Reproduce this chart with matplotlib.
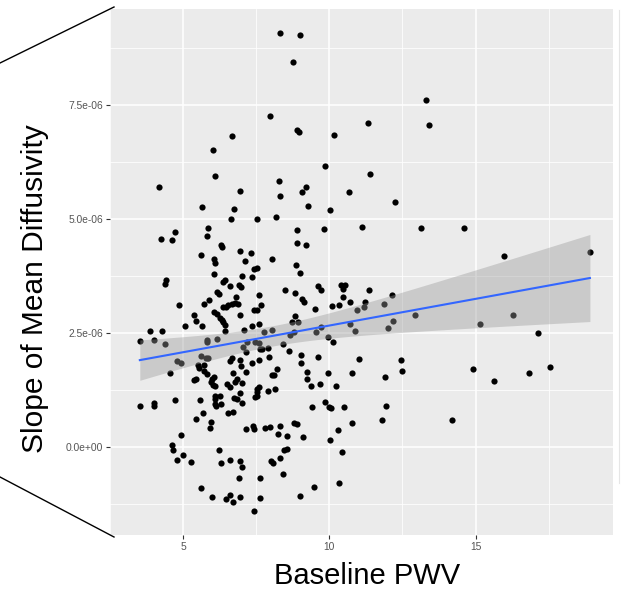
import numpy as np
import matplotlib.pyplot as plt
from matplotlib.lines import Line2D

# baseline PWV (m/s) and slope of mean diffusivity (x1e-6) per subject
pwv = [
    8.30, 9.00, 8.77, 7.97, 8.89, 8.97, 6.67, 10.15, 11.31, 6.01,
    9.84, 11.38, 6.08, 4.17, 8.29, 9.20, 6.94, 8.31, 9.07, 10.68,
    5.66, 6.75, 9.26, 10.02, 6.64, 7.51, 8.17, 5.84, 4.26, 4.63,
    4.72, 5.80, 6.31, 6.33, 8.90, 9.81, 11.12, 8.91, 9.20,
    13.32, 13.42, 12.24, 13.13, 14.59,
    15.97, 18.91, 12.14, 11.87, 12.18, 11.99, 12.92, 15.15, 16.28, 17.15,
    12.46, 12.48, 11.89, 14.91, 15.62, 16.82, 17.54, 11.94, 11.81, 14.21,
    5.60, 6.05, 6.10, 6.96, 7.31, 7.11, 8.05, 8.86, 8.99, 7.43,
    7.52, 7.37, 7.00, 6.06, 4.42, 4.38, 6.44, 6.38, 6.59, 6.91,
    6.99, 6.16, 6.24, 7.60, 8.49, 8.84, 9.62, 9.70, 10.40, 10.53,
    10.47, 11.34, 9.07, 9.14, 6.80, 5.88, 5.72, 7.68, 6.66, 6.78,
    6.87, 6.55, 6.38, 6.46, 4.87, 7.43, 7.51, 6.06, 6.16, 6.95,
    5.38, 9.50, 10.10, 10.32, 10.47, 10.72, 11.23, 10.93, 11.20, 6.27,
    6.33, 6.35, 6.42, 5.43, 5.07, 5.66, 8.84, 8.72, 8.93, 7.58,
    7.37, 6.42, 7.08, 3.86, 4.28, 10.71, 10.87, 9.70, 9.53, 8.80,
    7.77, 8.05, 3.52, 4.02, 4.38, 5.82, 5.80, 6.16, 7.20, 7.45,
    7.59, 7.06, 7.62, 7.69, 7.90, 8.43, 8.67, 9.95, 10.12, 7.15,
    8.63, 9.03, 9.61, 11.03, 5.60, 5.77, 5.84, 4.80, 4.92, 6.66,
    6.59, 6.95, 7.36, 7.59, 7.95, 9.03, 5.52, 5.56, 5.73, 6.98,
    4.54, 5.71, 5.82, 6.72, 7.15, 8.22, 8.03, 8.10, 9.22, 9.23,
    9.95, 10.78, 5.43, 5.38, 5.99, 6.06, 5.97, 6.83, 6.78, 7.01,
    6.01, 6.10, 6.49, 6.61, 9.36, 9.67, 10.24, 7.59, 7.54, 7.51,
    7.90, 8.13, 6.94, 6.73, 6.83, 6.08, 6.27, 6.10, 7.45, 7.51,
    3.52, 4.02, 4.00, 4.72, 5.59, 6.10, 6.28, 6.12, 7.00, 9.84,
    9.98, 10.04, 10.49, 9.42, 6.53, 6.72, 5.67, 5.43, 5.95, 5.91,
    7.15, 7.40, 7.42, 7.81, 7.98, 8.30, 8.80, 8.88, 8.26, 8.55,
    9.11, 10.29, 10.78, 10.02, 4.92, 4.62, 4.67, 4.79, 4.98, 5.28,
    6.23, 6.28, 6.62, 6.96, 7.01, 7.99, 8.07, 8.31, 8.46, 8.54,
    10.43, 6.90, 7.63, 8.42, 5.62, 9.48, 10.32, 5.99, 6.46, 6.62,
    6.72, 6.95, 7.62, 9.00, 7.41,
]
md_slope = [
    9.07, 9.02, 8.43, 7.26, 6.95, 6.91, 6.81, 6.84, 7.11, 6.50,
    6.16, 5.99, 5.93, 5.69, 5.83, 5.70, 5.61, 5.51, 5.58, 5.59,
    5.27, 5.22, 5.28, 5.20, 5.00, 4.99, 5.04, 4.80, 4.55, 4.53,
    4.72, 4.62, 4.42, 4.39, 4.76, 4.77, 4.82, 4.48, 4.42,
    7.60, 7.06, 5.37, 4.80, 4.80,
    4.18, 4.28, 3.33, 3.14, 2.76, 2.60, 2.90, 2.69, 2.89, 2.49,
    1.90, 1.67, 1.53, 1.70, 1.44, 1.63, 1.76, 0.89, 0.60, 0.60,
    4.21, 4.13, 4.04, 4.29, 4.26, 4.07, 4.13, 3.99, 3.82, 3.91,
    3.93, 3.73, 3.75, 3.79, 3.67, 3.58, 3.67, 3.62, 3.53, 3.55,
    3.51, 3.40, 3.35, 3.34, 3.44, 3.38, 3.52, 3.45, 3.55, 3.56,
    3.46, 3.45, 3.25, 3.18, 3.28, 3.22, 3.14, 3.12, 3.14, 3.16,
    3.14, 3.12, 3.06, 3.07, 3.11, 3.00, 3.00, 2.96, 2.92, 2.90,
    2.90, 3.03, 3.10, 3.12, 3.28, 3.17, 3.18, 3.00, 3.07, 2.82,
    2.78, 2.74, 2.67, 2.76, 2.66, 2.66, 2.88, 2.74, 2.74, 2.69,
    2.65, 2.54, 2.56, 2.54, 2.54, 2.69, 2.54, 2.63, 2.53, 2.53,
    2.52, 2.56, 2.32, 2.34, 2.25, 2.34, 2.29, 2.36, 2.30, 2.30,
    2.27, 2.19, 2.14, 2.14, 2.17, 2.25, 2.45, 2.41, 2.29, 2.08,
    2.10, 2.01, 1.97, 1.92, 1.99, 1.94, 1.95, 1.88, 1.83, 1.96,
    1.88, 1.90, 1.84, 1.91, 1.97, 1.85, 1.79, 1.74, 1.79, 1.77,
    1.62, 1.67, 1.61, 1.63, 1.65, 1.70, 1.57, 1.57, 1.65, 1.50,
    1.63, 1.63, 1.50, 1.46, 1.50, 1.54, 1.43, 1.50, 1.43, 1.40,
    1.35, 1.33, 1.37, 1.32, 1.34, 1.38, 1.33, 1.32, 1.26, 1.21,
    1.23, 1.28, 1.19, 1.08, 1.06, 1.12, 1.12, 1.05, 1.10, 1.11,
    0.90, 0.97, 0.89, 1.03, 1.02, 0.95, 0.95, 0.89, 0.97, 0.98,
    0.88, 0.85, 0.88, 0.88, 0.74, 0.77, 0.74, 0.62, 0.54, 0.42,
    0.40, 0.47, 0.40, 0.42, 0.44, 0.47, 0.52, 0.50, 0.29, 0.23,
    0.21, 0.38, 0.53, 0.15, 0.26, 0.04, -0.07, -0.28, -0.18, -0.32,
    -0.07, -0.36, -0.29, -0.31, -0.43, -0.31, -0.35, -0.24, -0.07, -0.05,
    -0.10, -0.69, -0.69, -0.59, -0.91, -0.88, -0.79, -1.10, -1.15, -1.06,
    -1.21, -1.10, -1.11, -1.07, -1.41,
]

x_ticks = [5, 10, 15]
y_ticks = [0.0, 2.5e-06, 5.0e-06, 7.5e-06]
y_tick_labels = ["0.0e+00", "2.5e-06", "5.0e-06", "7.5e-06"]

x = np.array(pwv)
y = np.array(md_slope) * 1e-6

# linear fit with 95% confidence band (like geom_smooth(method="lm"))
n = len(x)
slope, intercept = np.polyfit(x, y, 1)
resid = y - (intercept + slope * x)
s = np.sqrt(np.sum(resid ** 2) / (n - 2))
xbar = x.mean()
sxx = np.sum((x - xbar) ** 2)
xs = np.linspace(x.min(), x.max(), 80)
fit = intercept + slope * xs
hw = 1.968 * s * np.sqrt(1.0 / n + (xs - xbar) ** 2 / sxx)

fig = plt.figure(figsize=(6.21, 5.93), dpi=100)
ax = fig.add_axes([110 / 621, 58 / 593, 503 / 621, 526 / 593])
ax.set_facecolor("#EBEBEB")
for sp in ax.spines.values():
    sp.set_visible(False)

ax.set_xlim(2.73, 19.7)
ax.set_ylim(-1.93e-06, 9.6e-06)
ax.set_xticks(x_ticks)
ax.set_xticks([2.5, 7.5, 12.5, 17.5], minor=True)
ax.set_yticks(y_ticks)
ax.set_yticks([-1.25e-06, 1.25e-06, 3.75e-06, 6.25e-06, 8.75e-06], minor=True)
ax.set_yticklabels(y_tick_labels)
ax.grid(which="major", color="white", lw=1.1)
ax.grid(which="minor", color="white", lw=0.55)
ax.set_axisbelow(True)
ax.tick_params(which="major", length=3, width=0.8, color="#333333",
               labelsize=7.4, labelcolor="#555555", pad=2)
ax.tick_params(which="minor", length=0)
for lab in ax.get_xticklabels() + ax.get_yticklabels():
    lab.set_fontfamily("Liberation Sans")

ax.scatter(x, y, s=20, color="black", linewidths=0, zorder=2)
ax.fill_between(xs, fit - hw, fit + hw, color="#999999", alpha=0.4,
                linewidth=0, zorder=3)
ax.plot(xs, fit, color="#3366FF", lw=1.5, zorder=4)

fig.text(0.057, 0.514, "Slope of Mean Diffusivity", rotation=90,
         ha="center", va="center", fontsize=21.5, family="Liberation Sans")
fig.text(0.591, 0.029, "Baseline PWV", ha="center", va="center",
         fontsize=21, family="Liberation Sans")

# connector lines on the left edge
fig.add_artist(Line2D([0, 114 / 621], [1 - 63 / 593, 1 - 7 / 593],
                      color="black", lw=1.0))
fig.add_artist(Line2D([0, 114 / 621], [1 - 477 / 593, 1 - 537 / 593],
                      color="black", lw=1.0))
fig.add_artist(Line2D([619 / 621, 619 / 621], [1 - 483 / 593, 1 - 10 / 593],
                      color="#E6E6E6", lw=0.8))

fig.savefig("out.png", dpi=100)
